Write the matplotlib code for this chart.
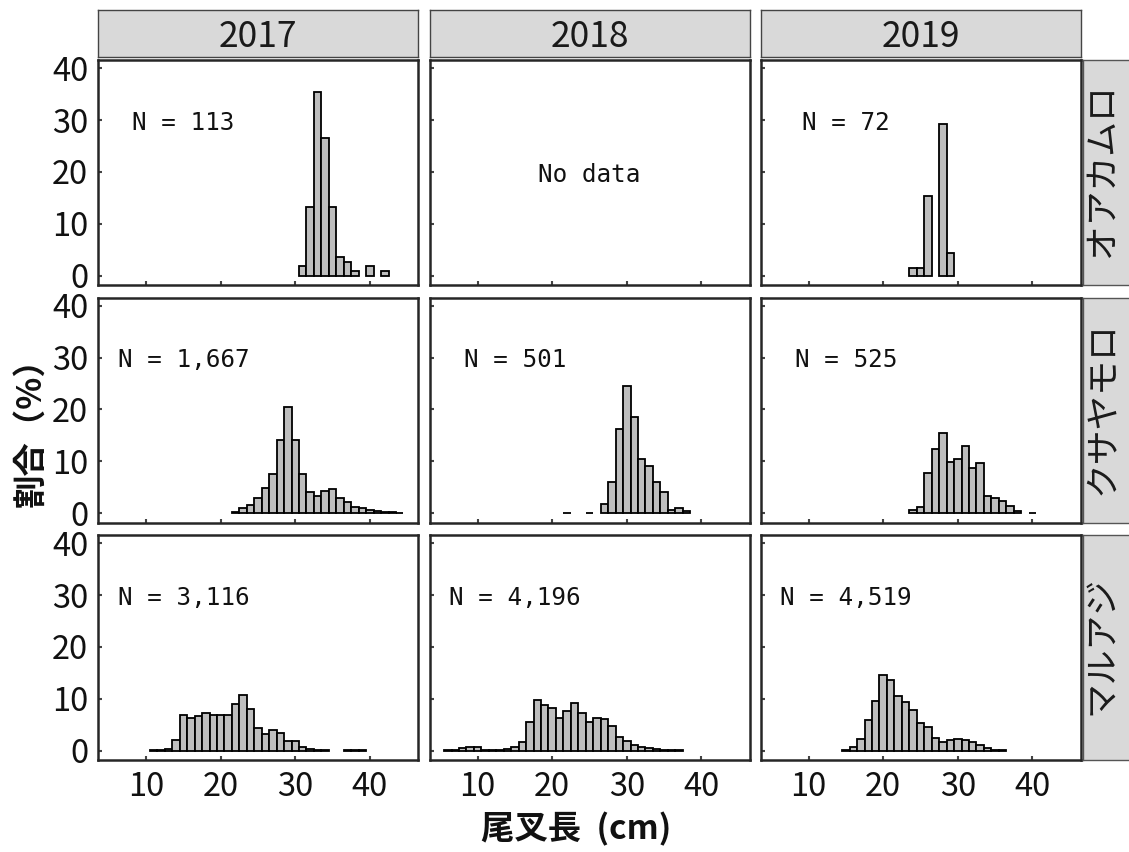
import matplotlib
matplotlib.use("Agg")
import matplotlib.pyplot as plt

plt.rcParams['font.family'] = ['Noto Sans CJK JP', 'DejaVu Sans']

# Facet labels
years = ["2017", "2018", "2019"]
species = ["オアカムロ", "クサヤモロ", "マルアジ"]

# Fork length bins (cm, bin centres) and share of fish (%) per panel
oaka_2017_len = [31, 32, 33, 34, 35, 36, 37, 38, 40, 42]
oaka_2017_pct = [1.77, 13.3, 35.4, 26.5, 13.3, 3.54, 2.65, 0.885, 1.77, 0.885]
oaka_2019_len = [24, 25, 26, 28, 29]
oaka_2019_pct = [1.4, 1.4, 15.3, 29.2, 4.3]

kusa_2017_len = list(range(22, 45))
kusa_2017_pct = [0.2, 1.0, 1.6, 3.0, 4.9, 7.5, 14.1, 20.4, 14.1, 7.6, 4.0, 3.4,
                 4.2, 4.6, 3.0, 2.1, 1.2, 1.0, 0.7, 0.45, 0.3, 0.2, 0.1]
kusa_2018_len = [22, 25] + list(range(27, 39))
kusa_2018_pct = [0.1, 0.1, 1.7, 6.1, 16.3, 24.6, 18.6, 10.5, 9.1, 6.0, 4.0,
                 0.7, 1.0, 0.45]
kusa_2019_len = list(range(24, 39)) + [40]
kusa_2019_pct = [0.6, 1.1, 7.8, 12.3, 15.4, 9.9, 10.4, 13.0, 8.7, 9.6, 3.4,
                 3.0, 2.4, 1.35, 0.45, 0.1]

maru_2017_len = list(range(11, 35)) + [37, 38, 39]
maru_2017_pct = [0.05, 0.2, 0.3, 2.1, 6.9, 6.3, 6.7, 7.2, 6.8, 6.8, 6.8, 9.0,
                 10.7, 8.0, 4.4, 3.3, 4.0, 3.5, 1.8, 1.9, 0.65, 0.4, 0.13, 0.1,
                 0.05, 0.05, 0.05]
maru_2018_len = list(range(6, 38))
maru_2018_pct = [0.1, 0.2, 0.45, 0.8, 0.8, 0.2, 0.1, 0.1, 0.25, 0.8, 1.6, 5.6,
                 9.8, 8.8, 8.3, 6.3, 7.6, 9.2, 7.2, 5.6, 6.3, 6.1, 4.7, 2.7,
                 1.9, 1.0, 0.65, 0.45, 0.3, 0.2, 0.13, 0.1]
maru_2019_len = list(range(15, 37))
maru_2019_pct = [0.13, 0.8, 2.2, 5.9, 9.6, 14.6, 13.7, 10.6, 9.3, 7.8, 5.4,
                 4.5, 2.4, 1.75, 2.0, 2.3, 2.1, 1.7, 1.0, 0.5, 0.2, 0.13]

# Sample sizes shown in each panel (None = no sampling that year)
n_oaka = ["N = 113", None, "N = 72"]
n_kusa = ["N = 1,667", "N = 501", "N = 525"]
n_maru = ["N = 3,116", "N = 4,196", "N = 4,519"]

panels = [
    [(oaka_2017_len, oaka_2017_pct), None, (oaka_2019_len, oaka_2019_pct)],
    [(kusa_2017_len, kusa_2017_pct), (kusa_2018_len, kusa_2018_pct),
     (kusa_2019_len, kusa_2019_pct)],
    [(maru_2017_len, maru_2017_pct), (maru_2018_len, maru_2018_pct),
     (maru_2019_len, maru_2019_pct)],
]
n_text = [n_oaka, n_kusa, n_maru]

x_ticks = [10, 20, 30, 40]
y_ticks = [0, 10, 20, 30, 40]

W, H = 1129, 852
fig = plt.figure(figsize=(W / 100, H / 100), dpi=100)


def px_axes(left, top, width, height, **kw):
    return fig.add_axes([left / W, 1 - (top + height) / H, width / W, height / H], **kw)


col_left = [98, 429.5, 760.5]
row_top = [60, 297.5, 535]
pw, ph = 320, 225
frame_col = "#262626"
strip_fill = "#d9d9d9"
ink = "#111111"

for r in range(3):
    for c in range(3):
        ax = px_axes(col_left[c], row_top[r], pw, ph)
        ax.set_xlim(3.55, 46.45)
        ax.set_ylim(-1.8, 41.6)
        data = panels[r][c]
        if data is not None:
            lens, pct = data
            ax.bar(lens, pct, width=1.0, color="#bebebe", edgecolor="black",
                   linewidth=1.3, zorder=2)
        else:
            ax.text(25, 19.5, "No data", ha="center", va="center",
                    fontsize=17.5, family="DejaVu Sans Mono", color=ink)
        label = n_text[r][c]
        if label:
            ax.text(15, 29.5, label, ha="center", va="center", fontsize=17.5,
                    family="DejaVu Sans Mono", color=ink)
        ax.set_xticks(x_ticks)
        ax.set_yticks(y_ticks)
        ax.tick_params(direction="in", length=3, width=1.5, color="#444444",
                       labelsize=23.5, labelcolor=ink)
        ax.tick_params(axis="y", pad=7)
        ax.tick_params(axis="x", pad=8)
        if c != 0:
            ax.set_yticklabels([])
        if r != 2:
            ax.set_xticklabels([])
        for s in ax.spines.values():
            s.set_linewidth(1.8)
            s.set_color(frame_col)

    # species strip on the right
    sx = px_axes(1082.5, row_top[r], 60, ph)
    sx.set_facecolor(strip_fill)
    sx.set_xticks([])
    sx.set_yticks([])
    for s in sx.spines.values():
        s.set_linewidth(1.0)
        s.set_color("#555555")
    fig.text(1102 / W, 1 - (row_top[r] + ph / 2 - 2) / H, species[r], rotation=90,
             ha="center", va="center", fontsize=25, color="#1a1a1a")

# year strips on top
for c in range(3):
    tx = px_axes(col_left[c], 10, pw, 47)
    tx.set_facecolor(strip_fill)
    tx.set_xticks([])
    tx.set_yticks([])
    for s in tx.spines.values():
        s.set_linewidth(1.0)
        s.set_color("#444444")
    tx.text(0.5, 0.42, years[c], ha="center", va="center", fontsize=25.5,
            color="#1a1a1a", transform=tx.transAxes)

fig.text(576 / W, 1 - 829 / H, "尾叉長  (cm)", ha="center", va="center",
         fontsize=24, color=ink, fontweight="bold")
fig.text(31 / W, 1 - 424 / H, "割合（%）", ha="center", va="center",
         rotation=90, fontsize=24, color=ink, fontweight="bold")

fig.savefig("out.png", dpi=100, facecolor="white")
